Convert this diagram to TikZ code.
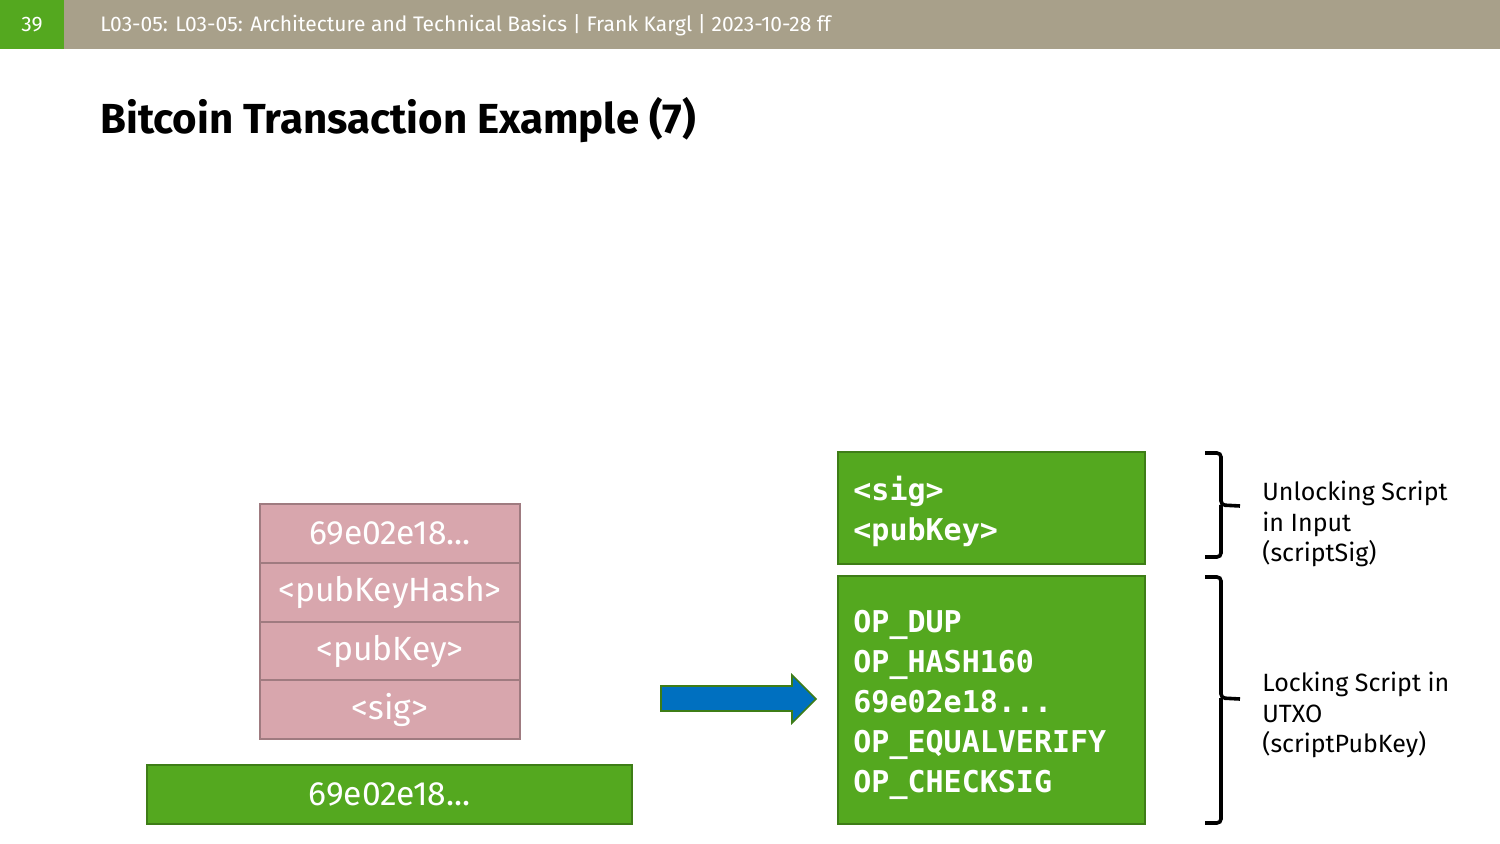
\documentclass[tikz,border=0pt]{standalone}
\usepackage{fontspec}
\setmainfont{Fira Sans}
\newfontfamily\codefont{DejaVu Sans Mono}
\definecolor{hdrgray}{HTML}{A8A08A}
\definecolor{uulmgreen}{HTML}{54A81F}
\definecolor{greenedge}{HTML}{3E7D17}
\definecolor{pinkfill}{HTML}{D8A6AD}
\definecolor{pinkedge}{HTML}{9F7B80}
\definecolor{arrowblue}{HTML}{0070C0}
\tikzset{
  pinkbox/.style={draw=pinkedge, line width=1pt, fill=pinkfill, text=white,
    minimum width=130pt, minimum height=29.5pt, inner sep=0pt,
    font=\fontsize{16.8}{19}\selectfont},
  greenbox/.style={draw=greenedge, line width=1pt, fill=uulmgreen, text=white, inner sep=0pt},
  codetext/.style={text=white, anchor=north west, align=left, inner sep=0pt,
    font=\codefont\bfseries\fontsize{15}{20}\selectfont},
  bracestyle/.style={line width=1.8pt, rounded corners=2pt},
  labeltext/.style={anchor=west, align=left, inner sep=0pt,
    font=\fontsize{12.5}{15.4}\selectfont},
  blockarrow/.style={draw=greenedge, line width=0.8pt, fill=arrowblue}
}
\begin{document}
\begin{tikzpicture}[x=0.5pt,y=-0.5pt]
\useasboundingbox (0,0) rectangle (1500,844);
% header
\fill[hdrgray] (0,0) rectangle (1500,49);
\fill[uulmgreen] (0,0) rectangle (64,49);
\node[text=white, font=\fontsize{10.5}{12}\selectfont] (pagenum) at (32,25) {39};
\node[text=white, anchor=west, inner sep=0pt, font=\fontsize{10.5}{12}\selectfont] (hdr) at (100,25)
  {L03-05: L03-05: Architecture and Technical Basics | Frank Kargl | 2023-10-28 ff};
% title
\node[anchor=base west, inner sep=0pt, font=\bfseries\fontsize{21}{25}\selectfont] (title) at (100,134)
  {Bitcoin Transaction Example (7)};
% stack
\node[pinkbox] (s1) at (390,533.5) {69e02e18...};
\node[pinkbox] (s2) at (390,592.5) {<pubKeyHash>};
\node[pinkbox] (s3) at (390,651) {<pubKey>};
\node[pinkbox] (s4) at (390,709.5) {<sig>};
\node[greenbox, minimum width=242.5pt, minimum height=29.5pt, font=\fontsize{16.8}{19}\selectfont] (inp) at (389.5,794.5) {69e02e18...};
% arrow
\draw[blockarrow] (661,686) -- (792,686) -- (792,675) -- (816,699) -- (792,723) -- (792,711) -- (661,711) -- cycle;
% script boxes
\node[greenbox, minimum width=153.5pt, minimum height=56pt] (unl) at (991.5,508) {};
\node[greenbox, minimum width=153.5pt, minimum height=124pt] (lock) at (991.5,700) {};
\node[codetext] (unltext) at (853,476) {<sig>\\<pubKey>};
\node[codetext] (locktext) at (853,609.5) {OP\_DUP\\OP\_HASH160\\69e02e18...\\OP\_EQUALVERIFY\\OP\_CHECKSIG};
% braces
\coordinate (b1t) at (1205,453);
\coordinate (b1b) at (1205,557);
\coordinate (b1m) at (1240,506);
\draw[bracestyle] (b1t) -- (1221,453) -- (1221,505) -- (b1m) (1221,505) -- (1221,557) -- (b1b);
\coordinate (b2t) at (1205,577);
\coordinate (b2b) at (1205,823);
\coordinate (b2m) at (1240,699);
\draw[bracestyle] (b2t) -- (1221,577) -- (1221,698) -- (b2m) (1221,698) -- (1221,823) -- (b2b);
% labels
\node[labeltext] (lab1) at (1262,524) {Unlocking Script\\in Input\\(scriptSig)};
\node[labeltext] (lab2) at (1262,715) {Locking Script in\\UTXO\\(scriptPubKey)};
\end{tikzpicture}
\end{document}
